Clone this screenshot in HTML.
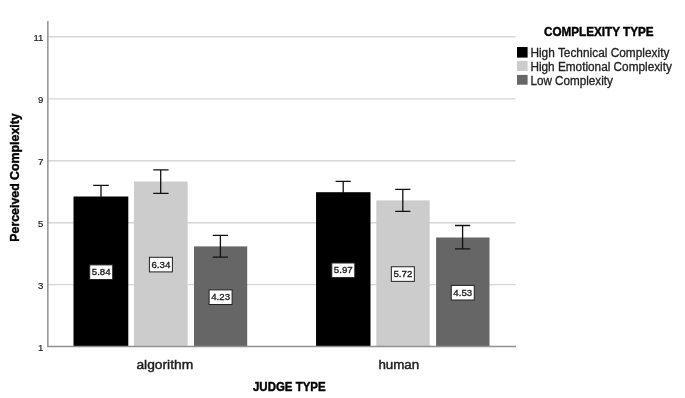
<!DOCTYPE html>
<html><head><meta charset="utf-8"><style>
html,body{margin:0;padding:0;background:#fff;width:685px;height:398px;overflow:hidden}
svg{display:block;will-change:transform;filter:blur(0.35px)}
text{font-family:"Liberation Sans",sans-serif}
</style></head><body>
<svg width="685" height="398" viewBox="0 0 685 398">
<rect width="685" height="398" fill="#fff"/>
<!-- gridlines -->
<g stroke="#d6d6d6" stroke-width="1.4">
<line x1="48" y1="36.8" x2="515.5" y2="36.8"/>
<line x1="48" y1="98.9" x2="515.5" y2="98.9"/>
<line x1="48" y1="160.8" x2="515.5" y2="160.8"/>
<line x1="48" y1="222.7" x2="515.5" y2="222.7"/>
<line x1="48" y1="284.6" x2="515.5" y2="284.6"/>
</g>
<!-- y tick labels -->
<g font-size="9.6" fill="#222" stroke="#222" stroke-width="0.2" text-anchor="end">
<text x="43.4" y="41.4">11</text>
<text x="43.4" y="103.3">9</text>
<text x="43.4" y="165.2">7</text>
<text x="43.4" y="227.1">5</text>
<text x="43.4" y="289">3</text>
<text x="43.4" y="350.9">1</text>
</g>
<!-- bars -->
<rect x="73.5" y="196.5" width="54.8" height="150" fill="#000"/>
<rect x="133.95" y="181.5" width="53.7" height="165" fill="#cccccc"/>
<rect x="194" y="246.4" width="53.2" height="100.1" fill="#666666"/>
<rect x="316.05" y="192.2" width="54.45" height="154.3" fill="#000"/>
<rect x="376.3" y="200.4" width="53.4" height="146.1" fill="#cccccc"/>
<rect x="436.1" y="237.5" width="53.4" height="109" fill="#666666"/>
<!-- axes -->
<g stroke="#909090" stroke-width="1.5" fill="none">
<path d="M47.85 21 V346.6 H516"/>
</g>
<!-- error bars -->
<g stroke="#111" stroke-width="1.3" fill="none">
<path d="M101 185.3 V197 M93.2 185.3 H108.8"/>
<path d="M160.7 169.9 V193.4 M153.2 169.9 H168.6 M153.2 193.4 H168.6"/>
<path d="M220.4 235.3 V257.1 M212.8 235.3 H228 M212.8 257.1 H228"/>
<path d="M343.2 181.3 V193 M335.6 181.3 H350.8"/>
<path d="M402.8 189.3 V211.3 M395.2 189.3 H410.4 M395.2 211.3 H410.4"/>
<path d="M462.6 225.5 V248.9 M455 225.5 H470.2 M455 248.9 H470.2"/>
</g>
<!-- value labels -->
<g stroke="#222" stroke-width="1" fill="#fff">
<rect x="89.70" y="264.90" width="23" height="14.6"/>
<rect x="149.40" y="257.30" width="23" height="14.6"/>
<rect x="209.10" y="289.90" width="23" height="14.6"/>
<rect x="331.80" y="263.00" width="23" height="14.6"/>
<rect x="391.35" y="266.75" width="23" height="14.6"/>
<rect x="451.25" y="285.40" width="23" height="14.6"/>
</g>
<g font-size="9.3" fill="#1a1a1a" stroke="#1a1a1a" stroke-width="0.3" text-anchor="middle">
<text x="101.20" y="275.20" textLength="18.9" lengthAdjust="spacingAndGlyphs">5.84</text>
<text x="160.90" y="267.60" textLength="18.9" lengthAdjust="spacingAndGlyphs">6.34</text>
<text x="220.60" y="300.20" textLength="18.9" lengthAdjust="spacingAndGlyphs">4.23</text>
<text x="343.30" y="273.30" textLength="18.9" lengthAdjust="spacingAndGlyphs">5.97</text>
<text x="402.85" y="277.05" textLength="18.9" lengthAdjust="spacingAndGlyphs">5.72</text>
<text x="462.75" y="295.70" textLength="18.9" lengthAdjust="spacingAndGlyphs">4.53</text>
</g>
<!-- x labels -->
<g font-size="13" fill="#1e1e1e" stroke="#1e1e1e" stroke-width="0.45">
<text x="136.4" y="368.6" textLength="56.8" lengthAdjust="spacingAndGlyphs">algorithm</text>
<text x="378.4" y="368.6" textLength="40.8" lengthAdjust="spacingAndGlyphs">human</text>
</g>
<text x="253" y="391.1" font-size="12.8" font-weight="bold" fill="#000" stroke="#000" stroke-width="0.45" textLength="72.6" lengthAdjust="spacingAndGlyphs">JUDGE TYPE</text>
<!-- y title -->
<text transform="translate(18.9,241.7) rotate(-90)" font-size="13.2" font-weight="bold" fill="#000" stroke="#000" stroke-width="0.4" textLength="128.4" lengthAdjust="spacingAndGlyphs">Perceived Complexity</text>
<!-- legend -->
<text x="544" y="36.3" font-size="13" font-weight="bold" fill="#000" stroke="#000" stroke-width="0.45" textLength="109.6" lengthAdjust="spacingAndGlyphs">COMPLEXITY TYPE</text>
<rect x="517" y="47" width="10.6" height="10.6" fill="#000"/>
<rect x="517" y="60.8" width="10.6" height="10.2" fill="#cccccc"/>
<rect x="517" y="74.9" width="10.6" height="9.8" fill="#666666"/>
<g font-size="12" fill="#222" stroke="#222" stroke-width="0.3">
<text x="530.4" y="57" textLength="139" lengthAdjust="spacingAndGlyphs">High Technical Complexity</text>
<text x="530.4" y="70.9" textLength="141.5" lengthAdjust="spacingAndGlyphs">High Emotional Complexity</text>
<text x="530.4" y="84.8" textLength="82.5" lengthAdjust="spacingAndGlyphs">Low Complexity</text>
</g>
</svg>
</body></html>
